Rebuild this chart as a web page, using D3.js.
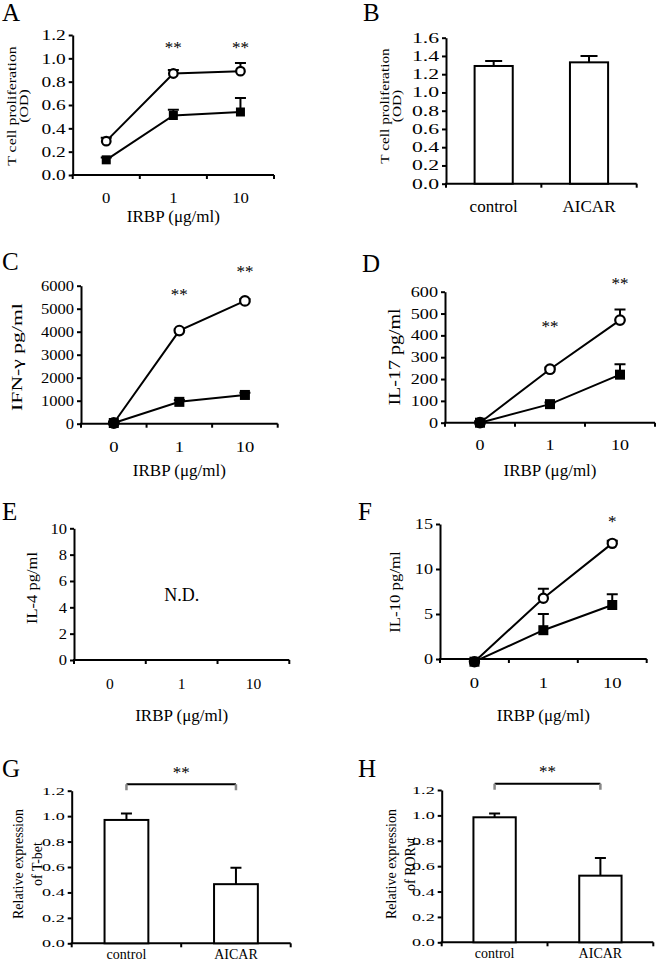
<!DOCTYPE html>
<html><head><meta charset="utf-8">
<script src="https://cdn.jsdelivr.net/npm/d3@7"></script>
<style>
body{margin:0;background:#fff}
svg{display:block}
text{font-family:"Liberation Serif","Times New Roman",serif;fill:#000}
</style>
</head><body><svg id="c" width="656" height="963"></svg>
<script>
// ---------- data ----------
const doses = ["0", "1", "10"];
const groups = ["control", "AICAR"];

// A: T cell proliferation (OD)
const prolifCtrl = [0.29, 0.87, 0.89];
const prolifCtrlErr = [0.03, 0.03, 0.07];
const prolifAicar = [0.13, 0.51, 0.54];
const prolifAicarErr = [0.02, 0.05, 0.12];
const prolifStars = ["", "**", "**"];
const prolifStarPos = [null, 1.13, 1.13];
const prolifTicks = [0, 0.2, 0.4, 0.6, 0.8, 1.0, 1.2];

// B: proliferation bars
const prolifBars = [1.29, 1.33];
const prolifBarsErr = [0.055, 0.07];
const prolifBarTicks = [0, 0.2, 0.4, 0.6, 0.8, 1.0, 1.2, 1.4, 1.6];

// C: IFN-gamma
const ifnCtrl = [30, 4050, 5340];
const ifnCtrlErr = [20, 60, 80];
const ifnAicar = [30, 950, 1250];
const ifnAicarErr = [30, 80, 100];
const ifnStars = ["", "**", "**"];
const ifnStarPos = [null, 5800, 6800];
const ifnTicks = [0, 1000, 2000, 3000, 4000, 5000, 6000];

// D: IL-17
const il17Ctrl = [0, 245, 470];
const il17CtrlErr = [5, 8, 48];
const il17Aicar = [0, 85, 220];
const il17AicarErr = [5, 8, 48];
const il17Stars = ["", "**", "**"];
const il17StarPos = [null, 460, 655];
const il17Ticks = [0, 100, 200, 300, 400, 500, 600];

// E: IL-4 (not detected)
const il4Ticks = [0, 2, 4, 6, 8, 10];

// F: IL-10
const il10Ctrl = [-0.3, 6.75, 12.85];
const il10CtrlErr = [0.1, 1.05, 0.3];
const il10Aicar = [-0.3, 3.2, 6.0];
const il10AicarErr = [0.1, 1.8, 1.2];
const il10Stars = ["", "", "*"];
const il10StarPos = [null, null, 15.7];
const il10Ticks = [0, 5, 10, 15];

// G: T-bet
const tbet = [0.97, 0.465];
const tbetErr = [0.05, 0.13];
// H: ROR-gamma-t
const rorgt = [0.985, 0.525];
const rorgtErr = [0.03, 0.14];
const relTicks = [0, 0.2, 0.4, 0.6, 0.8, 1.0, 1.2];

// ---------- drawing ----------
const svg = d3.select("#c");

function letter(t, x, y) {
  svg.append("text").attr("x", x).attr("y", y).attr("font-size", 25).text(t);
}

function yLabel(lines, cxs, cy, fs, sx) {
  lines.forEach((l, i) => {
    svg.append("text")
      .attr("transform", `translate(${cxs[i]},${cy}) rotate(-90) scale(${sx || 1},1)`)
      .attr("text-anchor", "middle").attr("dy", "0.35em")
      .attr("font-size", fs).text(l);
  });
}

function axes(p, x, y, labels) {
  const g = svg.append("g");
  const ya = g.append("g").attr("transform", `translate(${p.x0},0)`)
    .call(d3.axisLeft(y).tickValues(p.ticks).tickFormat(p.fmt).tickSize(4).tickSizeOuter(0).tickPadding(3));
  ya.attr("font-family", null);
  ya.selectAll("text").attr("font-size", p.tfs)
    .attr("x", -7 / p.tsx).attr("transform", `scale(${p.tsx},1)`);
  ya.select(".domain").attr("stroke-width", 2);
  ya.selectAll(".tick line").attr("stroke-width", 2);
  // x axis
  const xa = g.append("g").attr("transform", `translate(0,${y(0)})`)
    .call(d3.axisBottom(x).tickSize(0).tickSizeOuter(0).tickPadding(p.xpad));
  xa.attr("font-family", null);
  xa.selectAll("text").attr("font-size", p.xfs).attr("transform", `scale(${p.xsx || 1},1)`);
  xa.select(".domain").attr("stroke-width", 2).attr("d", `M${p.x0 - 1},0H${p.x1}`);
  const bounds = d3.range(labels.length + 1).map(i => x.range()[0] + i * x.step());
  xa.selectAll(".xt").data(bounds).join("line").attr("class", "xt")
    .attr("x1", d => d).attr("x2", d => d).attr("y1", 0).attr("y2", 4)
    .attr("stroke", "#000").attr("stroke-width", 2);
  return g;
}

function linePanel(p) {
  const x = d3.scaleBand().domain(doses).range([p.x0, p.x1]);
  const y = d3.scaleLinear().domain([0, p.yMax]).range([p.y0, p.y1]);
  axes(p, x, y, doses);
  const cx = d => x(d) + x.bandwidth() / 2;
  const line = d3.line().x((d, i) => cx(doses[i])).y(d => y(d));
  (p.series || []).forEach(s => {
    const g = svg.append("g");
    g.append("path").datum(s.vals).attr("d", line).attr("fill", "none")
      .attr("stroke", "#000").attr("stroke-width", 2);
    g.selectAll(".eb").data(s.vals).join("path").attr("class", "eb")
      .attr("d", (v, i) => `M${cx(doses[i])},${y(v)}V${y(v + s.errs[i])}M${cx(doses[i]) - p.cap / 2},${y(v + s.errs[i])}h${p.cap}`)
      .attr("stroke", "#000").attr("stroke-width", 2).attr("fill", "none");
    if (s.type === "circle") {
      g.selectAll(".m").data(s.vals).join("circle").attr("class", "m")
        .attr("cx", (v, i) => cx(doses[i])).attr("cy", v => y(v)).attr("r", p.r)
        .attr("fill", "#fff").attr("stroke", "#000").attr("stroke-width", 2.2);
    } else {
      g.selectAll(".m").data(s.vals).join("rect").attr("class", "m")
        .attr("x", (v, i) => cx(doses[i]) - p.sq / 2).attr("y", v => y(v) - p.sq / 2)
        .attr("width", p.sq).attr("height", p.sq).attr("fill", "#000");
    }
  });
  if (p.stars) {
    svg.selectAll(null).data(p.stars.map((s, i) => ({s, v: p.starPos[i], d: doses[i]})).filter(d => d.s))
      .join("text").attr("x", d => cx(d.d)).attr("y", d => y(d.v)).attr("dy", "0.55em")
      .attr("text-anchor", "middle").attr("font-size", 17).text(d => d.s);
  }
  svg.append("text").attr("x", (p.x0 + p.x1) / 2).attr("y", p.titleY)
    .attr("text-anchor", "middle").attr("font-size", 17).text("IRBP (\u03bcg/ml)");
  return {x, y};
}

function barPanel(p) {
  const xb = d3.scaleBand().domain(groups).range([p.x0, p.x1]);
  const y = d3.scaleLinear().domain([0, p.yMax]).range([p.y0, p.y1]);
  axes(p, xb, y, groups);
  const g = svg.append("g");
  const cx = d => xb(d) + xb.bandwidth() / 2;
  const bw = xb.bandwidth() * 0.4;
  g.selectAll(".eb").data(p.vals).join("path").attr("class", "eb")
    .attr("d", (v, i) => `M${cx(groups[i])},${y(v)}V${y(v + p.errs[i])}M${cx(groups[i]) - p.cap / 2},${y(v + p.errs[i])}h${p.cap}`)
    .attr("stroke", "#000").attr("stroke-width", 2).attr("fill", "none");
  g.selectAll(".bar").data(p.vals).join("rect").attr("class", "bar")
    .attr("x", (v, i) => cx(groups[i]) - bw / 2).attr("y", v => y(v))
    .attr("width", bw).attr("height", v => y(0) - y(v))
    .attr("fill", "#fff").attr("stroke", "#000").attr("stroke-width", 2);
  if (p.bracket) {
    const by = y(p.bracket);
    const a = cx(groups[0]), b = cx(groups[1]);
    g.append("path").attr("d", `M${a},${by}H${b}`).attr("stroke", "#000").attr("stroke-width", 2);
    g.append("path").attr("d", `M${a},${by}v6M${b},${by}v6`).attr("stroke", "#888").attr("stroke-width", 2.5);
    g.append("text").attr("x", (a + b) / 2).attr("y", by - 16).attr("dy", "0.55em")
      .attr("text-anchor", "middle").attr("font-size", 17).text("**");
  }
  return {x: xb, y};
}

// Panel A
letter("A", 2, 21);
linePanel({x0: 72.7, x1: 274, y0: 175, y1: 35, yMax: 1.2, ticks: prolifTicks, fmt: d3.format(".1f"),
  tfs: 15.5, tsx: 1.25, xfs: 14.5, xsx: 1.15, xpad: 18, cap: 11, r: 4.3, sq: 9, titleY: 222,
  series: [{vals: prolifCtrl, errs: prolifCtrlErr, type: "circle"},
           {vals: prolifAicar, errs: prolifAicarErr, type: "square"}],
  stars: prolifStars, starPos: prolifStarPos});
yLabel(["T cell proliferation", "(OD)"], [11, 23], 106, 13, 1.22);

// Panel B
letter("B", 363, 21);
barPanel({x0: 446, x1: 636.7, y0: 183.7, y1: 37.7, yMax: 1.6, ticks: prolifBarTicks, fmt: d3.format(".1f"),
  tfs: 14, tsx: 1.55, xfs: 17, xsx: 1, xpad: 16, cap: 17, vals: prolifBars, errs: prolifBarsErr});
yLabel(["T cell proliferation", "(OD)"], [384, 396], 106, 13, 1.18);

// Panel C
letter("C", 2, 270);
linePanel({x0: 81, x1: 277.7, y0: 423.7, y1: 285.7, yMax: 6000, ticks: ifnTicks, fmt: d3.format("d"),
  tfs: 15, tsx: 1.1, xfs: 15.5, xsx: 1.2, xpad: 17, cap: 11, r: 4.8, sq: 10, titleY: 476,
  series: [{vals: ifnCtrl, errs: ifnCtrlErr, type: "circle"},
           {vals: ifnAicar, errs: ifnAicarErr, type: "square"}],
  stars: ifnStars, starPos: ifnStarPos});
yLabel(["IFN-\u03b3 pg/ml"], [17], 357, 15.5, 1.4);

// Panel D
letter("D", 362, 272);
linePanel({x0: 445, x1: 655, y0: 422.7, y1: 291.7, yMax: 600, ticks: il17Ticks, fmt: d3.format("d"),
  tfs: 14, tsx: 1.3, xfs: 15, xsx: 1.2, xpad: 17, cap: 11, r: 4.8, sq: 10, titleY: 476,
  series: [{vals: il17Ctrl, errs: il17CtrlErr, type: "circle"},
           {vals: il17Aicar, errs: il17AicarErr, type: "square"}],
  stars: il17Stars, starPos: il17StarPos});
yLabel(["IL-17 pg/ml"], [394], 357, 16, 1.25);

// Panel E
letter("E", 2, 520);
const pe = linePanel({x0: 74, x1: 289.3, y0: 660, y1: 528.3, yMax: 10, ticks: il4Ticks, fmt: d3.format("d"),
  tfs: 15, tsx: 1.1, xfs: 15.5, xsx: 1, xpad: 18, cap: 11, r: 4.8, sq: 10, titleY: 721, series: []});
svg.append("text").attr("x", pe.x("1") + pe.x.bandwidth() / 2).attr("y", pe.y(4.5))
  .attr("text-anchor", "middle").attr("font-size", 18).text("N.D.");
yLabel(["IL-4 pg/ml"], [32], 588, 14.5, 1.14);

// Panel F
letter("F", 358, 520);
linePanel({x0: 440, x1: 646.7, y0: 659, y1: 524, yMax: 15, ticks: il10Ticks, fmt: d3.format("d"),
  tfs: 14, tsx: 1.3, xfs: 15.5, xsx: 1.2, xpad: 18, cap: 11, r: 4.6, sq: 10, titleY: 721,
  series: [{vals: il10Ctrl, errs: il10CtrlErr, type: "circle"},
           {vals: il10Aicar, errs: il10AicarErr, type: "square"}],
  stars: il10Stars, starPos: il10StarPos});
yLabel(["IL-10 pg/ml"], [395], 592, 15, 1.12);

// Panel G
letter("G", 2, 777);
barPanel({x0: 71.7, x1: 290.7, y0: 943.3, y1: 790.7, yMax: 1.2, ticks: relTicks, fmt: d3.format(".1f"),
  tfs: 11, tsx: 1.65, xfs: 14, xsx: 1, xpad: 6, cap: 11, vals: tbet, errs: tbetErr, bracket: 1.25});
yLabel(["Relative expression", "of T-bet"], [18, 37], 864, 14, 1);

// Panel H
letter("H", 358, 777);
barPanel({x0: 441.7, x1: 653.3, y0: 942.3, y1: 790, yMax: 1.2, ticks: relTicks, fmt: d3.format(".1f"),
  tfs: 11, tsx: 1.65, xfs: 14, xsx: 1, xpad: 6, cap: 11, vals: rorgt, errs: rorgtErr, bracket: 1.25});
yLabel(["Relative expression", "of ROR\u03b3t"], [391, 410], 864, 14, 1);
</script>
</body></html>
